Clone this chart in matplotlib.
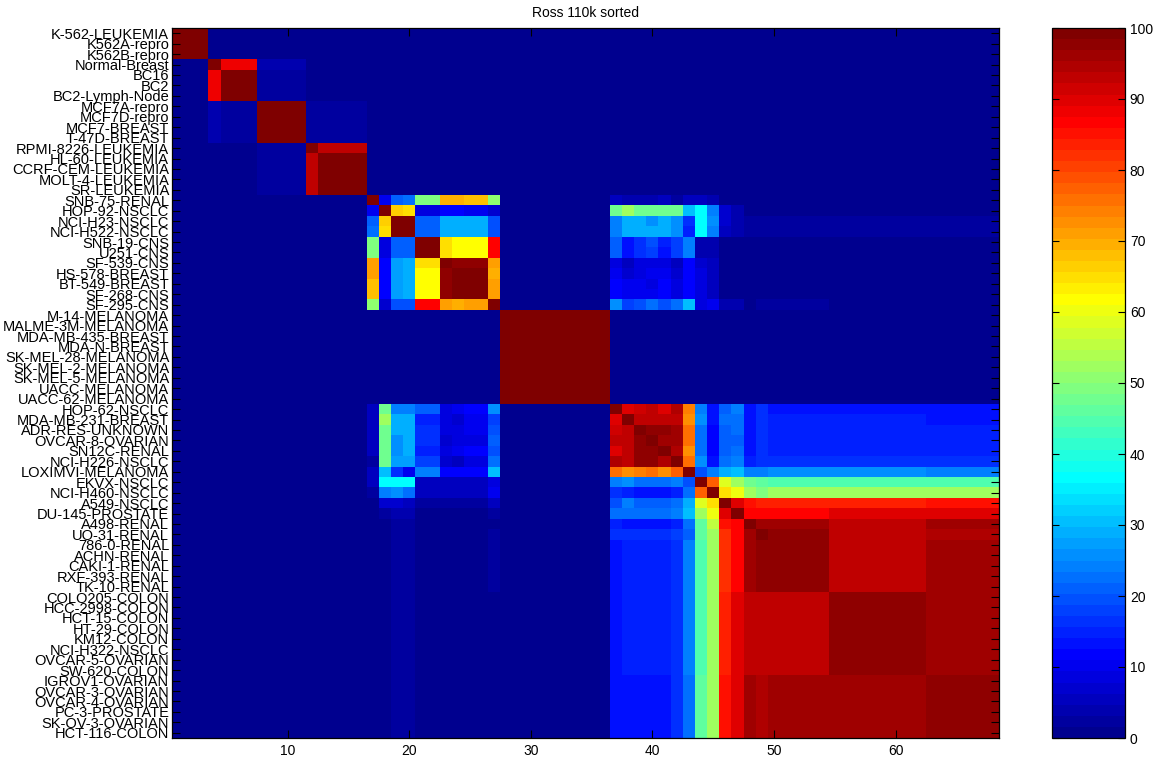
import numpy as np
import matplotlib.pyplot as plt
from matplotlib.colors import ListedColormap

plt.rcParams['font.family'] = ['Liberation Sans', 'DejaVu Sans']

cell_lines = [
    'K-562-LEUKEMIA', 'K562A-repro', 'K562B-repro', 'Normal-Breast', 'BC16', 'BC2',
    'BC2-Lymph-Node', 'MCF7A-repro', 'MCF7D-repro', 'MCF7-BREAST', 'T-47D-BREAST',
    'RPMI-8226-LEUKEMIA', 'HL-60-LEUKEMIA', 'CCRF-CEM-LEUKEMIA', 'MOLT-4-LEUKEMIA',
    'SR-LEUKEMIA', 'SNB-75-RENAL', 'HOP-92-NSCLC', 'NCI-H23-NSCLC', 'NCI-H522-NSCLC',
    'SNB-19-CNS', 'U251-CNS', 'SF-539-CNS', 'HS-578-BREAST', 'BT-549-BREAST',
    'SF-268-CNS', 'SF-295-CNS', 'M-14-MELANOMA', 'MALME-3M-MELANOMA',
    'MDA-MB-435-BREAST', 'MDA-N-BREAST', 'SK-MEL-28-MELANOMA', 'SK-MEL-2-MELANOMA',
    'SK-MEL-5-MELANOMA', 'UACC-MELANOMA', 'UACC-62-MELANOMA', 'HOP-62-NSCLC',
    'MDA-MB-231-BREAST', 'ADR-RES-UNKNOWN', 'OVCAR-8-OVARIAN', 'SN12C-RENAL',
    'NCI-H226-NSCLC', 'LOXIMVI-MELANOMA', 'EKVX-NSCLC', 'NCI-H460-NSCLC', 'A549-NSCLC',
    'DU-145-PROSTATE', 'A498-RENAL', 'UO-31-RENAL', '786-0-RENAL', 'ACHN-RENAL',
    'CAKI-1-RENAL', 'RXF-393-RENAL', 'TK-10-RENAL', 'COLO205-COLON', 'HCC-2998-COLON',
    'HCT-15-COLON', 'HT-29-COLON', 'KM12-COLON', 'NCI-H322-NSCLC', 'OVCAR-5-OVARIAN',
    'SW-620-COLON', 'IGROV1-OVARIAN', 'OVCAR-3-OVARIAN', 'OVCAR-4-OVARIAN',
    'PC-3-PROSTATE', 'SK-OV-3-OVARIAN', 'HCT-116-COLON',
]

background = 1.0

# leukemia / breast clusters: K562, Normal-Breast, BC*, MCF7/T-47D, RPMI, other leukemias
blood_sizes = [3, 1, 3, 4, 1, 4]
blood = [
    [100, 1, 1, 1, 1, 1],
    [1, 100, 88.3, 4, 1, 1],
    [1, 88.3, 100, 2.5, 1, 1],
    [1, 4, 2.5, 100, 2.5, 2.5],
    [1, 1, 1, 2.5, 100, 93],
    [1, 1, 1, 2.5, 93, 100],
]

# SNB-75 ... SF-295 (one row per line)
glioma = [
    [100, 10, 21, 23, 49, 49, 69.5, 69.5, 68, 68, 50.8],
    [10, 100, 66.4, 64.8, 8.5, 8.5, 11.7, 11.7, 10, 10, 7],
    [21, 66.4, 100, 99, 21, 21, 28.9, 28.9, 28.9, 28.9, 19.5],
    [23, 64.8, 99, 100, 21, 21, 28.9, 28.9, 28.9, 28.9, 19.5],
    [49, 8.5, 21, 21, 100, 99, 64.8, 61.7, 61.7, 61.7, 86.7],
    [49, 8.5, 21, 21, 99, 100, 64.8, 61.7, 61.7, 61.7, 86.7],
    [71, 11.7, 27.3, 28.9, 64.8, 64.8, 100, 97.7, 97.7, 97.7, 71],
    [71, 11.7, 27.3, 28.9, 61.7, 61.7, 97.7, 100, 99, 99, 69.5],
    [68, 11.7, 27.3, 28.9, 61.7, 61.7, 97.7, 99, 100, 99, 71],
    [68, 11.7, 27.3, 28.9, 61.7, 61.7, 97.7, 99, 99, 100, 71],
    [50.8, 7, 19.5, 19.5, 86.7, 86.7, 71, 69.5, 71, 71, 100],
]

melanoma_size = 9
melanoma = 100.0

# HOP-62 ... A498, UO-31 one by one, then renal, colon and ovarian groups
carcinoma_sizes = [1] * 13 + [5, 8, 6]
carcinoma = [
    [100, 90, 91.5, 93, 90, 94.5, 74, 24, 13.3, 21, 24, 13.3, 16.4, 14, 14, 14],
    [90, 100, 93, 93, 93, 93, 73, 26, 13.3, 23, 23, 13.3, 16.4, 14.8, 14.8, 14],
    [91.5, 93, 100, 98, 98, 96, 76, 23, 11.7, 21, 23, 13.3, 16.4, 14.8, 14.8, 14.8],
    [93, 93, 98, 100, 96, 96, 76, 23, 11.7, 21, 21, 13.3, 16.4, 14.8, 14.8, 14.8],
    [90, 93, 98, 97, 100, 94.5, 73, 23, 11.7, 21, 23, 13.3, 16.4, 14.8, 14.8, 14.8],
    [94.5, 93, 97, 97, 94.5, 100, 76, 26, 13.3, 23, 24, 14.8, 16.4, 16.4, 16.4, 16],
    [76, 72.7, 74, 76, 73, 77, 100, 19.5, 24, 29, 30.5, 24, 24, 25, 25, 24],
    [24, 26, 23, 23, 23, 24, 19.5, 100, 77, 58.6, 52.3, 47.7, 46, 44.5, 44.5, 44.5],
    [16.4, 14.8, 13.3, 13.3, 13.3, 14.8, 23, 77.3, 100, 64.8, 60, 52.3, 49.2, 52.3, 52.3, 52.3],
    [20, 24, 21, 21, 21, 23, 29, 58.6, 64.8, 100, 89.8, 85.2, 83.6, 83.6, 83.6, 85.2],
    [23, 23, 23, 23, 23, 24, 30.5, 52.3, 60, 89.8, 100, 86.7, 86.7, 86.7, 89.8, 89.8],
    [14.8, 13.3, 13.3, 13.3, 13.3, 14.8, 23, 46, 55, 84.4, 86.7, 100, 96, 96, 93, 96],
    [16.4, 16.4, 16.4, 16.4, 16.4, 18, 21, 46, 52.3, 82, 86.7, 96, 100, 97.7, 93, 94.5],
    [14, 14.8, 14.8, 14.8, 14.8, 16.4, 24, 44.5, 52.3, 82, 86.7, 96, 97.7, 97.7, 93, 96],
    [14, 14.8, 14.8, 14.8, 14.8, 16.4, 24, 44.5, 52.3, 83.6, 89.8, 93, 93, 93, 97.7, 96],
    [13.3, 13.3, 13.3, 13.3, 13.3, 16.4, 23, 46, 52.3, 84.4, 89.8, 96, 94.5, 96, 96, 97.7],
]

glioma_vs_carcinoma = [
    [5.5, 4, 4, 4, 5, 2.5, 5.5, 5.5, 4, 1, 1, 1, 1, 1, 1, 1],
    [47.7, 52.3, 47.7, 47.7, 47.7, 47.7, 30.5, 36.7, 24, 7, 4, 1, 1, 1, 1, 1],
    [24, 28.9, 28.9, 25.8, 28.9, 25.8, 16.4, 36.7, 25.8, 7, 4, 2.5, 2.5, 2.5, 2.5, 2.5],
    [24, 28.9, 28.9, 28.9, 28.9, 25.8, 14.8, 36.7, 24, 5.5, 4, 2.5, 2.5, 2.5, 2.5, 2.5],
    [21, 13.3, 16.4, 19.5, 14.8, 18, 24, 4, 4, 1, 1, 1, 1, 1, 1, 1],
    [21, 13.3, 16.4, 18, 13.3, 18, 24, 4, 4, 1, 1, 1, 1, 1, 1, 1],
    [8.5, 5.5, 8.5, 8.5, 8.5, 5.5, 11, 7, 5, 1, 1, 1, 1, 1, 1, 1],
    [10, 7, 8.5, 10, 10, 7, 11.7, 8.5, 5, 1, 1, 1, 1, 1, 1, 1],
    [11.7, 10, 10, 8.5, 11.7, 8.5, 11.7, 8.5, 5, 1, 1, 1, 1, 1, 1, 1],
    [11.7, 10, 10, 10, 11.7, 8.5, 11.7, 8.5, 5, 1, 1, 1, 1, 1, 1, 1],
    [25.8, 18, 19.5, 23, 19.5, 23, 30.5, 8.5, 10, 4, 4, 1, 2.5, 2.5, 1, 1],
]

carcinoma_vs_glioma = [
    [5.5, 47.7, 24, 24, 21, 21, 8.5, 10, 11.7, 11.7, 25.8],
    [5, 52.3, 28.9, 28.9, 14.8, 14.8, 8.5, 7, 10, 10, 18],
    [5, 47.7, 28.9, 28.9, 16.4, 16.4, 8.5, 8.5, 10, 10, 19.5],
    [5, 47.7, 25.8, 28.9, 16.4, 16.4, 7, 8.5, 8.5, 8.5, 21],
    [5.5, 47.7, 25.8, 28.9, 14.8, 14.8, 8.5, 10, 11.7, 11.7, 19.5],
    [2.5, 47.7, 27.3, 27.3, 18, 18, 7, 5.5, 8.5, 8.5, 23],
    [5.5, 30.5, 16.4, 10.5, 24, 24, 11, 11.7, 11.7, 11.7, 30.5],
    [5.5, 36.7, 36.7, 36.7, 5.5, 5.5, 5.5, 5.5, 5.5, 5.5, 8.5],
    [2.5, 24, 25.8, 23, 5, 5, 5, 5, 5, 5, 10],
    [1, 7, 7, 5, 2.5, 2.5, 2.5, 2.5, 2.5, 2.5, 5],
    [1, 2.5, 4, 4, 1, 1, 1, 1, 1, 1, 3],
    [1, 1, 2.5, 2.5, 1, 1, 1, 1, 1, 1, 1],
    [1, 1, 2.5, 2.5, 1, 1, 1, 1, 1, 1, 2.5],
    [1, 1, 2.5, 2.5, 1, 1, 1, 1, 1, 1, 2.5],
    [1, 1, 2.5, 2.5, 1, 1, 1, 1, 1, 1, 1],
    [1, 1, 2.5, 2.5, 1, 1, 1, 1, 1, 1, 1],
]


def expand(block, row_sizes, col_sizes):
    block = np.asarray(block, dtype=float)
    return np.repeat(np.repeat(block, row_sizes, axis=0), col_sizes, axis=1)


def matlab_jet(m=64):
    # same construction as MATLAB's jet(m)
    n = int(np.ceil(m / 4))
    u = np.concatenate([np.arange(1, n + 1) / n, np.ones(n - 1), np.arange(n, 0, -1) / n])
    g = int(np.ceil(n / 2)) - int(m % 4 == 1) + np.arange(1, len(u) + 1)
    r = g + n
    b = g - n
    J = np.zeros((m, 3))
    J[r[r <= m] - 1, 0] = u[r <= m]
    J[g[g <= m] - 1, 1] = u[g <= m]
    J[b[b >= 1] - 1, 2] = u[b >= 1]
    return ListedColormap(J)


n = len(cell_lines)
s1 = sum(blood_sizes)
s2 = s1 + len(glioma)
s3 = s2 + melanoma_size

sim = np.full((n, n), background)
sim[:s1, :s1] = expand(blood, blood_sizes, blood_sizes)
sim[s1:s2, s1:s2] = glioma
sim[s2:s3, s2:s3] = melanoma
sim[s3:, s3:] = expand(carcinoma, carcinoma_sizes, carcinoma_sizes)
sim[s1:s2, s3:] = expand(glioma_vs_carcinoma, [1] * len(glioma), carcinoma_sizes)
sim[s3:, s1:s2] = expand(carcinoma_vs_glioma, carcinoma_sizes, [1] * len(glioma))

W, H = 1156, 758
fig = plt.figure(figsize=(W / 100, H / 100), dpi=100)
ax = fig.add_axes([172 / W, 20 / H, (999 - 172) / W, 710 / H])

im = ax.imshow(sim, cmap=matlab_jet(64), vmin=0, vmax=100, interpolation='nearest',
               aspect='auto', extent=(0.5, n + 0.5, n + 0.5, 0.5))

ax.set_yticks(np.arange(1, n + 1))
ax.set_yticklabels(cell_lines, fontsize=10.5)
ax.set_xticks([10, 20, 30, 40, 50, 60])
ax.tick_params(axis='both', direction='in', top=True, right=True, length=5.5, width=0.8)
ax.tick_params(axis='y', pad=2)
ax.tick_params(axis='x', pad=4, labelsize=10)
for sp in ax.spines.values():
    sp.set_linewidth(0.9)
ax.set_title('Ross 110k sorted', fontsize=10, pad=8)

cax = fig.add_axes([1052 / W, 20 / H, 73 / W, 710 / H])
cb = fig.colorbar(im, cax=cax, ticks=np.arange(0, 101, 10))
cax.tick_params(direction='in', left=True, right=True, length=5, width=0.8, labelsize=10)
cb.outline.set_linewidth(0.9)

fig.savefig('out.png', dpi=100)
